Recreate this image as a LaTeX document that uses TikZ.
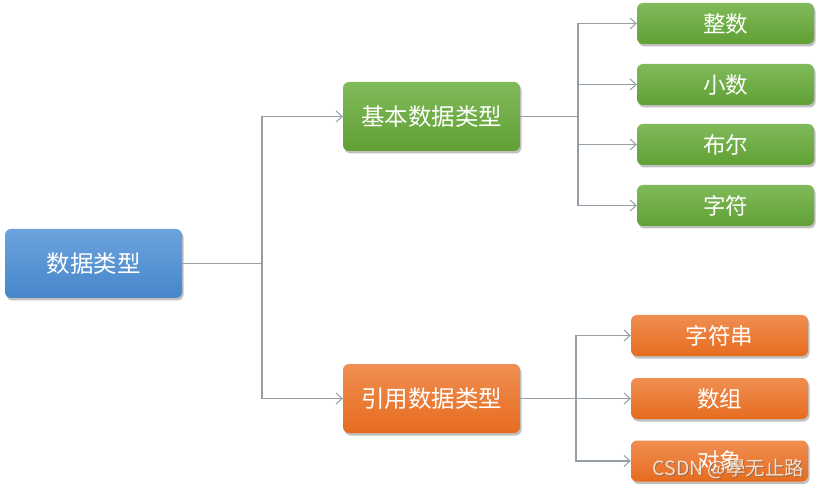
\documentclass[tikz,border=0pt]{standalone}
\usepackage{fontspec}
\setmainfont{Noto Sans CJK SC}
\usetikzlibrary{arrows.meta,shadows,positioning}
\definecolor{btop}{RGB}{108,163,222}
\definecolor{bbot}{RGB}{70,134,202}
\definecolor{gtop}{RGB}{128,186,90}
\definecolor{gbot}{RGB}{96,160,52}
\definecolor{otop}{RGB}{240,142,82}
\definecolor{obot}{RGB}{230,108,30}
\definecolor{conn}{RGB}{150,158,168}
\tikzset{
  box/.style={rounded corners=6pt, draw=none, text=white, align=center,
    drop shadow={shadow xshift=1.5pt, shadow yshift=-2.5pt, opacity=0.35, fill=black!70}},
  bigbox/.style={box, minimum width=177pt, minimum height=69pt, font=\fontsize{23.5}{27}\selectfont},
  leafbox/.style={box, minimum width=177pt, minimum height=41pt, font=\fontsize{22.5}{26}\selectfont},
  blue/.style={top color=btop, bottom color=bbot},
  green/.style={top color=gtop, bottom color=gbot},
  orange/.style={top color=otop, bottom color=obot},
  conline/.style={draw=conn, line width=1.1pt},
  arr/.style={conline, -{Straight Barb[length=6pt,width=11pt,line width=1pt]}},
  wmark/.style={font=\fontsize{19.5}{22}\selectfont},
}
\begin{document}
\begin{tikzpicture}[x=1pt,y=-1pt]
\useasboundingbox[fill=white] (0,0) rectangle (820,489);
\node[bigbox,blue] (root) at (93.5,263.5) {数据类型};
\node[bigbox,green] (basic) at (431.5,116.5) {基本数据类型};
\node[bigbox,orange] (ref) at (431.5,398.5) {引用数据类型};
\node[leafbox,green] (g1) at (725.5,23.5) {整数};
\node[leafbox,green] (g2) at (725.5,84.5) {小数};
\node[leafbox,green] (g3) at (725.5,144.5) {布尔};
\node[leafbox,green] (g4) at (725.5,205.5) {字符};
\node[leafbox,orange] (o1) at (719.5,335.5) {字符串};
\node[leafbox,orange] (o2) at (719.5,398.5) {数组};
\node[leafbox,orange] (o3) at (719.5,461) {对象};
\coordinate (j0) at (262,263.5);
\coordinate (j1) at (578,116.5);
\coordinate (j2) at (576,398.5);
\draw[conline] (root.east) -- (j0);
\draw[arr] (j0) |- (basic.west);
\draw[arr] (j0) |- (ref.west);
\draw[conline] (basic.east) -- (j1);
\foreach \n in {g1,g2,g3,g4} \draw[arr] (j1) |- (\n.west);
\draw[conline] (ref.east) -- (j2);
\foreach \n in {o1,o2,o3} \draw[arr] (j2) |- (\n.west);
\node[wmark, text=black!60, opacity=0.6] (wms) at (729.5,470) {CSDN @學无止路};
\node[wmark, text=white!90!orange, opacity=0.85] (wm) at (728.5,469) {CSDN @學无止路};
\end{tikzpicture}
\end{document}
